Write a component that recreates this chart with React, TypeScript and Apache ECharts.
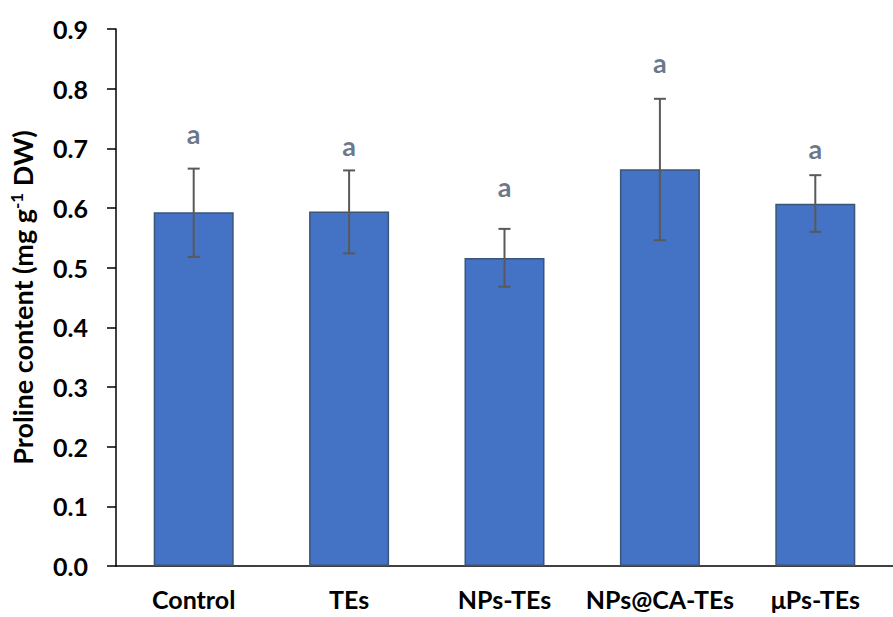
import React, { useEffect, useRef } from "react";
import * as echarts from "echarts";

const categories = ["Control", "TEs", "NPs-TEs", "NPs@CA-TEs", "μPs-TEs"];
const means = [0.593, 0.594, 0.516, 0.665, 0.607];
const errLow = [0.518, 0.524, 0.468, 0.546, 0.560];
const errHigh = [0.666, 0.663, 0.565, 0.783, 0.655];
const letters = ["a", "a", "a", "a", "a"];
const letterPos = [0.725, 0.705, 0.636, 0.844, 0.700];

const FONT = "Lato";

export default function App() {
  const ref = useRef<HTMLDivElement>(null);
  useEffect(() => {
    if (!ref.current) return;
    const chart = echarts.init(ref.current, null, { renderer: "svg" });
    chart.setOption({
      animation: false,
      backgroundColor: "#ffffff",
      grid: { left: 114, top: 29, bottom: 51, right: -10, containLabel: false },
      xAxis: {
        type: "category",
        data: categories,
        axisLine: { lineStyle: { color: "#000000", width: 1.5 } },
        axisTick: { show: false },
        axisLabel: {
          color: "#000000",
          fontFamily: FONT,
          fontWeight: "bold",
          fontSize: 25,
          lineHeight: 20,
          margin: 23,
          interval: 0,
        },
      },
      yAxis: {
        type: "value",
        min: 0,
        max: 0.9,
        interval: 0.1,
        splitLine: { show: false },
        axisLine: { show: true, lineStyle: { color: "#000000", width: 1.5 } },
        axisTick: { show: true, inside: false, length: 9, lineStyle: { color: "#000000", width: 1.5 } },
        axisLabel: {
          color: "#000000",
          fontFamily: FONT,
          fontWeight: "bold",
          fontSize: 25,
          margin: 28,
          formatter: (v: number) => v.toFixed(1),
        },
        name: "{t|Proline content (mg g}{s|-1}{t| DW)}",
        nameLocation: "middle",
        nameGap: 79,
        nameRotate: 90,
        nameTextStyle: {
          rich: {
            t: { fontFamily: FONT, fontWeight: "bold", fontSize: 27, color: "#000000" },
            s: { fontFamily: FONT, fontWeight: "bold", fontSize: 17, color: "#000000", verticalAlign: "top", padding: [0, 0, 12, 0] },
          },
        },
      },
      series: [
        {
          type: "bar",
          data: means,
          barWidth: 80,
          itemStyle: { color: "#4472C4", borderColor: "#3A5577", borderWidth: 1.5 },
        },
        {
          type: "custom",
          data: categories.map((_, i) => [i, errLow[i], errHigh[i]]),
          renderItem: (params: any, api: any) => {
            const x = api.value(0);
            const lo = api.coord([x, api.value(1)]);
            const hi = api.coord([x, api.value(2)]);
            const half = 6;
            const style = { stroke: "#595959", lineWidth: 2 };
            return {
              type: "group",
              children: [
                { type: "line", shape: { x1: hi[0], y1: hi[1], x2: lo[0], y2: lo[1] }, style },
                { type: "line", shape: { x1: hi[0] - half, y1: hi[1], x2: hi[0] + half, y2: hi[1] }, style },
                { type: "line", shape: { x1: lo[0] - half, y1: lo[1], x2: lo[0] + half, y2: lo[1] }, style },
              ],
            };
          },
          z: 5,
        },
        {
          type: "scatter",
          data: letterPos.map((v, i) => [i, v, letters[i]]),
          symbolSize: 1,
          itemStyle: { color: "rgba(0,0,0,0)" },
          label: {
            show: true,
            position: "inside",
            formatter: (p: any) => p.value[2],
            fontFamily: FONT,
            fontWeight: "bold",
            fontSize: 27,
            color: "#44546A",
          },
          z: 6,
        },
      ],
    });
    return () => chart.dispose();
  }, []);
  return (
    <div
      ref={ref}
      style={{ position: "fixed", left: 0, top: 0, width: 893, height: 617 }}
    />
  );
}
